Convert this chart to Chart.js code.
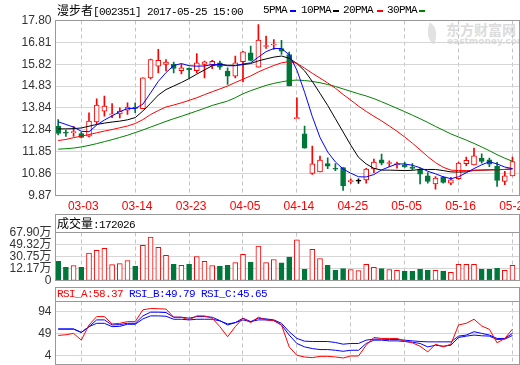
<!DOCTYPE html>
<html>
<head>
<meta charset="utf-8">
<script src="https://cdn.jsdelivr.net/npm/chart.js@4.4.1/dist/chart.umd.min.js"></script>
<style>
  body { margin: 0; background: #fff; }
  #wrap { position: relative; width: 520px; height: 365px; overflow: hidden; background: #fff; }
  canvas { position: absolute; left: 0; top: 0; }
  .t { position: absolute; white-space: pre; font: 11px/12px "Liberation Mono", monospace; letter-spacing: -0.6px; color: #000; }
  .cjk { font: 12px/12px "Noto Sans CJK SC", sans-serif; letter-spacing: 0; }
  .dash { position: absolute; top: 10px; width: 6px; height: 2px; }
  .wm { position: absolute; color: #dcdcdc; font-weight: bold; white-space: nowrap; }
</style>
</head>
<body>
<div id="wrap">
  <div class="wm" style="left:426px;top:24px;width:12px;height:19px;background:#e2e2e2;border-radius:0 100% 0 100%;transform:rotate(20deg)"></div>
  <div class="wm" style="left:446px;top:21px;font:bold 14px/16px 'Noto Sans CJK SC'">东方财富网</div>
  <div class="wm" style="left:447px;top:36px;font:bold 9px/10px 'DejaVu Sans'">eastmoney.com</div>

  <canvas id="price" width="520" height="365"></canvas>
  <canvas id="vol" width="520" height="365"></canvas>
  <canvas id="rsi" width="520" height="365"></canvas>

  <div class="t" style="left:57px;top:4px"><span class="cjk">漫步者</span>[002351] 2017-05-25 15:00</div>
  <div class="t" style="left:263px;top:4px">5PMA</div><div class="dash" style="left:290px;background:#0000ff"></div>
  <div class="t" style="left:301px;top:4px">10PMA</div><div class="dash" style="left:333px;background:#000"></div>
  <div class="t" style="left:343px;top:4px">20PMA</div><div class="dash" style="left:377px;background:#ff0000"></div>
  <div class="t" style="left:387px;top:4px">30PMA</div><div class="dash" style="left:419px;background:#008000"></div>

  <div class="t" style="left:57px;top:217px"><span class="cjk">成交量</span>:<span id="volNow"></span></div>
  <div class="t" style="left:57px;top:288px"><span id="rsiHead"></span></div>
</div>

<script>
// trading days shown on the chart
const dates = ['02-28','03-01','03-02','03-03','03-06','03-07','03-08','03-09','03-10','03-13',
  '03-14','03-15','03-16','03-17','03-20','03-21','03-22','03-23','03-24','03-27',
  '03-28','03-29','03-30','03-31','04-05','04-06','04-07','04-10','04-11','04-12',
  '04-13','04-14','04-17','04-18','04-19','04-20','04-21','04-24','04-25','04-26',
  '04-27','04-28','05-02','05-03','05-04','05-05','05-08','05-09','05-10','05-11',
  '05-12','05-15','05-16','05-17','05-18','05-19','05-22','05-23','05-24','05-25'];
const tickDates = ['03-03','03-14','03-23','04-05','04-14','04-25','05-05','05-16','05-25'];

const opens = [13.01,12.72,12.72,12.68,12.56,13.20,13.69,13.52,13.57,13.74,13.87,13.80,15.20,15.73,15.81,
  15.81,15.53,15.63,15.53,15.81,15.80,15.88,15.51,15.28,15.93,16.34,15.69,16.62,16.69,16.53,
  16.26,13.35,12.67,10.87,10.94,11.32,11.10,11.13,10.50,10.52,10.58,11.07,11.49,11.32,11.27,
  11.26,11.16,11.07,10.76,10.40,10.70,10.43,10.63,11.31,11.26,11.56,11.49,11.19,10.51,10.76];
const highs = [13.31,12.84,13.00,12.74,13.62,14.25,14.37,14.03,13.84,14.07,14.07,15.20,16.05,16.49,16.03,
  15.92,15.81,15.66,16.30,15.96,16.00,15.96,15.66,16.19,16.40,16.64,17.62,17.09,16.94,16.90,
  16.37,14.30,13.02,12.11,11.66,11.58,11.32,11.13,10.62,10.62,11.10,11.52,11.75,11.44,11.38,
  11.37,11.32,11.10,10.91,10.73,10.73,10.69,11.38,11.61,12.02,11.76,11.56,11.37,10.96,11.61];
const lows = [12.62,12.55,12.55,12.48,12.53,13.09,13.47,13.40,13.39,13.54,13.62,13.80,15.15,15.43,15.51,
  15.43,15.38,15.20,15.43,15.20,15.62,15.58,14.90,15.20,15.02,15.97,15.69,16.53,16.49,16.26,
  14.83,13.35,12.02,10.82,10.94,11.09,11.00,10.10,10.42,10.42,10.43,10.91,11.26,11.18,11.11,
  11.14,11.04,10.40,10.43,10.16,10.43,10.36,10.60,11.22,11.26,11.34,11.18,10.28,10.36,10.76];
const closes = [12.68,12.69,12.76,12.50,13.24,13.97,13.92,13.57,13.69,13.88,13.82,15.20,16.03,16.00,15.92,
  15.63,15.66,15.56,15.88,15.93,15.95,15.69,15.28,15.88,16.38,15.99,16.91,16.66,16.73,16.41,
  14.83,13.36,12.02,11.31,11.47,11.20,11.06,10.30,10.54,10.52,11.07,11.38,11.34,11.36,11.31,
  11.16,11.10,10.84,10.51,10.66,10.46,10.58,11.34,11.46,11.67,11.41,11.29,10.55,10.76,11.41];

const ma5 = [13.21,13.09,12.97,12.78,12.76,13.06,13.29,13.48,13.67,13.81,13.81,14.01,14.52,15.04,15.44,
  15.76,15.85,15.75,15.73,15.74,15.80,15.80,15.75,15.75,15.83,15.88,16.14,16.39,16.53,16.53,
  16.25,15.55,14.55,13.45,12.50,11.84,11.39,11.07,10.88,10.72,10.71,10.82,11.03,11.17,11.30,
  11.30,11.24,11.13,10.97,10.85,10.72,10.63,10.72,10.90,11.09,11.26,11.40,11.30,11.16,11.09];
const ma10 = [12.89,12.89,12.90,12.93,13.01,13.09,13.15,13.20,13.24,13.30,13.40,13.70,14.05,14.42,14.67,
  14.83,14.99,15.17,15.37,15.56,15.75,15.82,15.77,15.77,15.80,15.85,15.97,16.06,16.14,16.19,
  16.09,15.85,15.52,15.04,14.50,13.95,13.35,12.75,12.15,11.60,11.30,11.10,11.02,11.02,11.01,
  11.00,11.01,11.05,11.05,11.05,11.00,10.94,10.93,10.94,11.01,11.02,11.03,11.04,11.05,11.08];
const ma20 = [12.36,12.41,12.49,12.56,12.63,12.71,12.79,12.86,12.94,13.02,13.13,13.31,13.54,13.72,13.88,
  13.97,14.07,14.18,14.30,14.44,14.57,14.70,14.83,14.99,15.14,15.29,15.47,15.62,15.76,15.88,
  15.94,15.86,15.64,15.41,15.19,14.97,14.73,14.45,14.19,13.92,13.68,13.46,13.25,13.02,12.78,
  12.52,12.24,11.94,11.63,11.36,11.15,11.02,11.00,11.00,11.01,11.02,11.03,11.04,11.05,11.08];
const ma30 = [11.97,11.99,12.02,12.07,12.14,12.22,12.31,12.40,12.50,12.60,12.72,12.84,12.97,13.10,13.23,
  13.35,13.46,13.58,13.70,13.82,13.95,14.05,14.15,14.30,14.48,14.62,14.74,14.86,14.95,15.02,
  15.08,15.10,15.08,15.04,14.98,14.90,14.81,14.70,14.59,14.48,14.38,14.26,14.12,13.97,13.82,
  13.67,13.51,13.35,13.18,13.00,12.83,12.66,12.52,12.38,12.23,12.07,11.90,11.72,11.56,11.42];

// volume in lots (手)
const volumes = [234300,140100,166800,139600,360200,401800,433900,182400,198100,245200,155800,481300,607400,449100,324200,
  187300,172100,186800,307900,234400,166900,155700,172300,213800,340100,219200,470400,213700,261300,208400,
  297100,564200,109200,418300,277100,172400,93400,120100,104300,88100,186900,140200,119800,104100,93200,
  82300,79400,109100,93300,92900,82100,61800,187200,186800,187100,109300,108800,124200,93100,172026];

const rsiA = [45.6,46.9,49.7,36.0,66.7,83.7,83.7,68.8,70.1,73.5,73.5,97.4,100.0,99.6,98.9,
  82.4,82.4,77.0,85.1,85.1,80.4,63.3,42.9,63.3,80.4,71.5,82.4,77.0,75.6,66.7,
  22.4,5.4,2.0,0.6,3.3,3.3,2.0,0.0,4.0,4.0,25.8,41.5,39.5,39.5,39.5,
  34.0,30.6,23.8,12.2,27.9,22.4,27.9,66.7,70.1,78.3,64.7,57.9,30.6,39.5,58.37];
const rsiB = [58.5,58.5,58.5,51.7,63.3,77.0,77.0,66.7,67.5,70.1,70.1,85.1,92.6,92.6,91.9,
  82.4,82.4,80.4,83.7,83.7,82.4,75.6,66.7,71.5,80.4,73.5,80.4,79.0,77.0,70.1,
  53.1,39.5,34.0,33.3,33.3,33.3,31.3,27.9,29.3,29.3,36.0,38.1,38.1,37.4,37.4,
  36.0,34.6,33.3,32.6,32.6,32.6,32.6,44.2,46.3,53.1,49.7,46.3,39.5,39.5,49.79];
const rsiC = [58.5,58.5,58.5,51.7,63.3,70.1,70.1,63.3,64.0,68.1,68.1,79.0,85.1,85.1,84.4,
  78.3,78.3,77.0,78.3,78.3,78.3,75.0,68.8,71.5,77.0,73.5,77.0,77.0,75.6,66.7,
  46.3,29.3,22.4,19.0,17.0,17.0,15.6,13.5,15.6,15.6,29.3,36.0,36.0,34.6,34.6,
  33.3,31.9,29.3,22.4,25.8,23.8,25.8,41.5,44.2,46.3,44.9,44.2,37.4,38.1,45.65];

const priceTicks = [9.87, 10.86, 11.85, 12.84, 13.84, 14.83, 15.82, 16.81, 17.80];
const volTicks = [-6.42, 12.17, 30.75, 49.32, 67.90];   // in 万
const volTickLabels = ['0', '12.17万', '30.75万', '49.32万', '67.90万'];
const rsiTicks = [4, 49, 94];

const RED = '#ff0000';
const GREEN = '#00773a';
const BLUE = '#0000ff';
const FRAME = '#999999';

const dir = closes.map((c, i) => c > opens[i] ? 1 : c < opens[i] ? -1 : 0);
const candleColor = dir.map(d => d > 0 ? RED : d < 0 ? GREEN : '#000');

const framePlugin = {
  id: 'frame',
  afterDraw(chart, args, opts) {
    const { ctx, chartArea: a } = chart;
    const top = opts && opts.headerTop != null ? opts.headerTop : a.top;
    ctx.save();
    ctx.strokeStyle = FRAME;
    ctx.lineWidth = 1;
    ctx.strokeRect(a.left, top, a.right - a.left, a.bottom - top);
    ctx.beginPath();
    ctx.moveTo(a.left, a.top);
    ctx.lineTo(a.right, a.top);
    ctx.stroke();
    ctx.restore();
  }
};

function xScale(showLabels, height) {
  return {
    type: 'linear',
    min: -0.35,
    max: 59.91,
    offset: false,
    grid: { color: '#c4c4c4', drawTicks: false, offset: false },
    border: { display: false, dash: [4, 3] },
    afterBuildTicks: s => { s.ticks = tickDates.map(d => ({ value: dates.indexOf(d) })); },
    afterFit: s => { s.height = height; s.paddingLeft = 0; s.paddingRight = 0; },
    ticks: {
      display: showLabels,
      color: RED,
      font: { family: '"Liberation Sans", sans-serif', size: 12 },
      padding: 4,
      labelOffset: 2,
      autoSkip: false,
      maxRotation: 0,
      callback: v => dates[v]
    }
  };
}

function yScale(ticks, labels, min, max) {
  return {
    min: min,
    max: max,
    grid: { color: '#d6d6d6', drawTicks: false },
    border: { display: false },
    afterBuildTicks: s => { s.ticks = ticks.map(v => ({ value: v })); },
    afterFit: s => { s.width = 55.5; s.paddingTop = 0; s.paddingBottom = 0; },
    ticks: {
      color: '#333',
      font: { family: '"Liberation Sans", "Noto Sans CJK SC", sans-serif', size: 12 },
      padding: 4,
      autoSkip: false,
      callback: (v, i) => labels[i]
    }
  };
}

function baseOptions(padding, scales, headerTop) {
  return {
    responsive: false,
    animation: false,
    devicePixelRatio: 1,
    events: [],
    layout: { padding: padding },
    scales: scales,
    plugins: {
      legend: { display: false },
      tooltip: { enabled: false },
      frame: { headerTop: headerTop }
    }
  };
}

const maLine = (data, color, order) => ({
  type: 'line',
  data: data.map((y, i) => ({ x: i, y })),
  borderColor: color,
  borderWidth: 1,
  pointRadius: 0,
  order: order
});

new Chart(document.getElementById('price'), {
  type: 'line',
  data: {
    datasets: [
      maLine(ma5, BLUE, 0),
      maLine(ma20, RED, 1),
      maLine(ma10, '#000', 2),
      maLine(ma30, '#008000', 3),
      {
        type: 'bar',
        data: opens.map((o, i) => ({ x: i, y: [o, closes[i]] })),
        backgroundColor: dir.map(d => d > 0 ? '#fff' : d < 0 ? GREEN : '#000'),
        borderColor: candleColor,
        borderWidth: 1,
        borderSkipped: false,
        barThickness: 5,
        minBarLength: 1,
        grouped: false,
        order: 4
      },
      {
        type: 'bar',
        data: lows.map((l, i) => ({ x: i, y: [l, highs[i]] })),
        backgroundColor: candleColor,
        borderWidth: 0,
        barThickness: 1,
        grouped: false,
        order: 5
      }
    ]
  },
  options: baseOptions({ top: 20.5, right: 0.5 }, {
    x: xScale(true, 169.5),
    y: yScale(priceTicks, priceTicks.map(v => v.toFixed(2)), priceTicks[0], priceTicks[priceTicks.length - 1])
  }),
  plugins: [framePlugin]
});

new Chart(document.getElementById('vol'), {
  type: 'bar',
  data: {
    datasets: [{
      data: volumes.map((v, i) => ({ x: i, y: [volTicks[0], v / 10000] })),
      backgroundColor: dir.map(d => d >= 0 ? '#fff' : GREEN),
      borderColor: dir.map(d => d >= 0 ? RED : GREEN),
      borderWidth: 1,
      borderSkipped: false,
      barThickness: 5,
      grouped: false
    }]
  },
  options: baseOptions({ top: 232.5, right: 0.5, bottom: 84.5 }, {
    x: xScale(false, 0),
    y: yScale(volTicks, volTickLabels, volTicks[0], volTicks[volTicks.length - 1])
  }, 214.5),
  plugins: [framePlugin]
});

new Chart(document.getElementById('rsi'), {
  type: 'line',
  data: {
    datasets: [
      maLine(rsiA, RED, 0),
      maLine(rsiB, BLUE, 1),
      maLine(rsiC, BLUE, 2)
    ]
  },
  options: baseOptions({ top: 301.5, right: 0.5, bottom: 0.5 }, {
    x: xScale(false, 0),
    y: yScale(rsiTicks, rsiTicks.map(String), -13.2, 114.2)
  }, 287.5),
  plugins: [framePlugin]
});

document.getElementById('volNow').textContent = volumes[volumes.length - 1];
const last = a => a[a.length - 1].toFixed(2);
document.getElementById('rsiHead').innerHTML =
  `<span style="color:${RED}">RSI_A:${last(rsiA)}</span> ` +
  `<span style="color:${BLUE}">RSI_B:${last(rsiB)}</span> ` +
  `<span style="color:${BLUE}">RSI_C:${last(rsiC)}</span>`;
</script>
</body>
</html>
